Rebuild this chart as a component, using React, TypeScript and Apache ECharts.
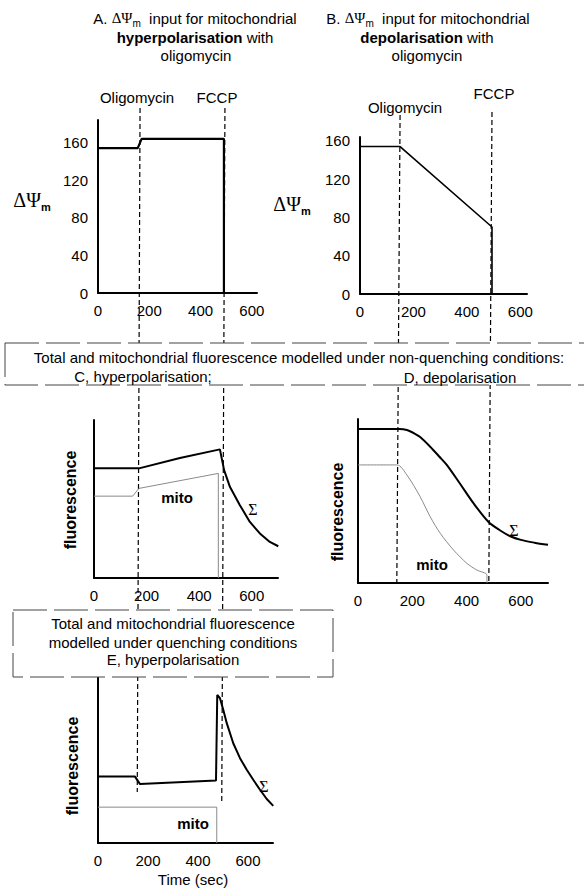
import React, { useEffect, useRef } from 'react';
import * as echarts from 'echarts';

const SANS = 'Liberation Sans, Arial, sans-serif';
const SERIF = 'Liberation Serif, Times New Roman, serif';

// Panel A: membrane potential input, hyperpolarisation
const timeA = [0, 155, 170, 491, 491];
const psiA = [154, 154, 164, 164, 0];
// Panel B: membrane potential input, depolarisation
const timeB = [0, 150, 494, 494];
const psiB = [154, 154, 70, 0];
// Panel C: non-quenching, hyperpolarisation
const timeCSum = [0, 171, 327, 479, 495, 517, 555, 593, 631, 669, 701];
const fluoCSum = [69.4, 69.4, 75.9, 81.4, 68.3, 57.7, 46.1, 35.5, 28.2, 22.8, 20.1];
const timeCMito = [0, 147, 171, 473, 473];
const fluoCMito = [51.8, 51.8, 56.7, 66.2, 0];
// Panel D: non-quenching, depolarisation
const timeDSum = [0, 152, 180, 210, 229, 266, 300, 327, 376, 426, 481, 524, 561, 600, 650, 700];
const fluoDSum = [93.9, 93.9, 93.3, 91, 89, 83.1, 77, 72, 60.5, 48.5, 37.2, 32, 28.5, 26.3, 24.6, 23.3];
const timeDMito = [0, 143, 180, 229, 266, 303, 352, 401, 438, 475, 475];
const fluoDMito = [72, 72, 65.9, 52.6, 40.4, 30.3, 20.1, 12, 7.9, 4.9, 0];
// Panel E: quenching, hyperpolarisation
const timeESum = [0, 148, 168, 472, 477, 488, 501, 515, 541, 568, 595, 621, 648, 675, 701];
const fluoESum = [40, 40, 35.5, 37.6, 89.2, 87.2, 80.2, 72.2, 60.1, 51.1, 44.1, 38.1, 32.1, 26.5, 22.4];
const timeEMito = [0, 475, 475];
const fluoEMito = [21.6, 21.6, 0];

// event times (oligomycin, FCCP) as read on each panel's axis
const eventsA = [164, 495];
const eventsB = [150, 494];
const eventsD = [143, 482];
const eventsE = [157, 495];

const xTicks = [0, 200, 400, 600];
const psiTicks = [0, 40, 80, 120, 160];

const zip = (xs: number[], ys: number[]) => xs.map((x, i) => [x, ys[i]]);

function xAxis(gridIndex: number, max: number) {
  return {
    type: 'value', gridIndex, min: 0, max, interval: 200,
    axisLine: { show: true, onZero: false, lineStyle: { color: '#000', width: 2 } },
    axisTick: { show: false }, splitLine: { show: false },
    axisLabel: {
      color: '#000', fontSize: 15, fontFamily: SANS, margin: 10,
      formatter: (v: number) => (xTicks.includes(v) ? String(v) : ''),
    },
  };
}
function yAxis(gridIndex: number, max: number, labels: boolean) {
  return {
    type: 'value', gridIndex, min: 0, max, interval: 40,
    axisLine: { show: true, onZero: false, lineStyle: { color: '#000', width: 2 } },
    axisTick: { show: false }, splitLine: { show: false },
    axisLabel: {
      show: labels, color: '#000', fontSize: 15, fontFamily: SANS, margin: 10,
      formatter: (v: number) => (psiTicks.includes(v) ? String(v) : ''),
    },
  };
}
function line(i: number, data: number[][], color: string, width: number, smooth: number | boolean = false) {
  return {
    type: 'line', xAxisIndex: i, yAxisIndex: i, data, symbol: 'none', smooth,
    lineStyle: { color, width }, silent: true,
  };
}

function txt(text: string, x: number, y: number, extra: any = {}) {
  return {
    type: 'text', x, y, z: 20,
    style: { text, fill: '#000', fontSize: 15, fontFamily: SANS, align: 'center', verticalAlign: 'middle', ...extra },
  };
}

const subRich = {
  g: { fontFamily: SERIF, fontSize: 15, lineHeight: 20, verticalAlign: 'middle' },
  s: { fontFamily: SANS, fontSize: 10, lineHeight: 10, verticalAlign: 'bottom' },
  b: { fontFamily: SANS, fontSize: 15, fontWeight: 'bold', lineHeight: 20, verticalAlign: 'middle' },
};
const psiRich = {
  g: { fontFamily: SERIF, fontSize: 20, lineHeight: 24, verticalAlign: 'middle' },
  s: { fontFamily: SANS, fontSize: 11, fontWeight: 'bold', lineHeight: 10, verticalAlign: 'bottom' },
};

export default function App() {
  const ref = useRef<HTMLDivElement>(null);
  useEffect(() => {
    if (!ref.current) return;
    const chart = echarts.init(ref.current, null, { renderer: 'svg' });
    chart.setOption({
      animation: false,
      backgroundColor: '#fff',
      grid: [
        { left: 98, top: 120, width: 159, height: 173 },
        { left: 360, top: 137, width: 167, height: 157 },
        { left: 94, top: 420, width: 184, height: 158 },
        { left: 358, top: 419, width: 190, height: 164 },
        { left: 98, top: 677, width: 175, height: 166 },
      ],
      xAxis: [xAxis(0, 620), xAxis(1, 625), xAxis(2, 700), xAxis(3, 700), xAxis(4, 700)],
      yAxis: [yAxis(0, 184, true), yAxis(1, 164, true), yAxis(2, 100, false), yAxis(3, 100, false), yAxis(4, 100, false)],
      series: [
        line(0, zip(timeA, psiA), '#000', 2.2),
        line(1, zip(timeB, psiB), '#000', 1.6),
        line(2, zip(timeCMito, fluoCMito), '#8a8a8a', 1),
        line(2, zip(timeCSum, fluoCSum), '#000', 2),
        line(3, zip(timeDMito, fluoDMito), '#8a8a8a', 1, 0.3),
        line(3, zip(timeDSum, fluoDSum), '#000', 2, 0.3),
        line(4, zip(timeEMito, fluoEMito), '#8a8a8a', 1),
        line(4, zip(timeESum, fluoESum), '#000', 2),
      ],
    });

    const px = (axis: number, v: number) => chart.convertToPixel({ xAxisIndex: axis }, v) as number;
    const dash = (x1: number, y1: number, x2: number, y2: number) => ({
      type: 'line', z: 1, shape: { x1, y1, x2, y2 },
      style: { stroke: '#000', lineWidth: 1.2, lineDash: [5, 3] },
    });
    const box = (x: number, y: number, width: number, height: number) => ({
      type: 'rect', z: 10, shape: { x, y, width, height },
      style: { fill: '#fff', stroke: '#444', lineWidth: 1, lineDash: [34, 7] },
    });

    chart.setOption({
      graphic: [
        dash(px(0, eventsA[0]), 108, px(4, eventsE[0]), 792),
        dash(px(0, eventsA[1]), 108, px(4, eventsE[1]), 803),
        dash(px(1, eventsB[0]), 115, px(3, eventsD[0]), 583),
        dash(px(1, eventsB[1]), 112, px(3, eventsD[1]), 582),
        box(5, 343, 590, 42),
        box(13, 610, 320, 67),
        // titles
        txt('A. {g|ΔΨ}{s|m}  input for mitochondrial', 195, 18, { lineHeight: 20, rich: subRich }),
        txt('{b|hyperpolarisation} with', 195, 37, { lineHeight: 20, rich: subRich }),
        txt('oligomycin', 196, 55),
        txt('B. {g|ΔΨ}{s|m}  input for mitochondrial', 428, 18, { lineHeight: 20, rich: subRich }),
        txt('{b|depolarisation} with', 427, 37, { lineHeight: 20, rich: subRich }),
        txt('oligomycin', 427, 55),
        // event labels
        txt('Oligomycin', 137, 97),
        txt('FCCP', 217, 97),
        txt('Oligomycin', 405, 107),
        txt('FCCP', 494, 93),
        // y labels
        txt('{g|ΔΨ}{s|m}', 32, 200, { rich: psiRich }),
        txt('{g|ΔΨ}{s|m}', 292, 204, { rich: psiRich }),
        // C/D header
        txt('Total and mitochondrial fluorescence modelled under non-quenching conditions:', 299, 357),
        txt('C, hyperpolarisation;', 143, 376),
        txt('D, depolarisation', 460, 377),
        // E header
        txt('Total and mitochondrial fluorescence', 173, 623),
        txt('modelled under quenching conditions', 173, 642),
        txt('E, hyperpolarisation', 173, 659),
        // fluorescence labels
        { ...txt('fluorescence', 70, 500, { fontWeight: 'bold', fontSize: 16 }), rotation: Math.PI / 2 },
        { ...txt('fluorescence', 337, 512, { fontWeight: 'bold', fontSize: 16 }), rotation: Math.PI / 2 },
        { ...txt('fluorescence', 72, 766, { fontWeight: 'bold', fontSize: 16 }), rotation: Math.PI / 2 },
        txt('mito', 177, 497, { fontWeight: 'bold' }),
        txt('mito', 432, 564, { fontWeight: 'bold' }),
        txt('mito', 193, 823, { fontWeight: 'bold' }),
        txt('Σ', 253, 509, { fontFamily: SERIF, fontSize: 16 }),
        txt('Σ', 514, 530, { fontFamily: SERIF, fontSize: 16 }),
        txt('Σ', 264, 786, { fontFamily: SERIF, fontSize: 16 }),
        txt('Time (sec)', 193, 879),
      ],
    });
    return () => chart.dispose();
  }, []);
  return <div ref={ref} style={{ position: 'fixed', left: 0, top: 0, width: 584, height: 889 }} />;
}
